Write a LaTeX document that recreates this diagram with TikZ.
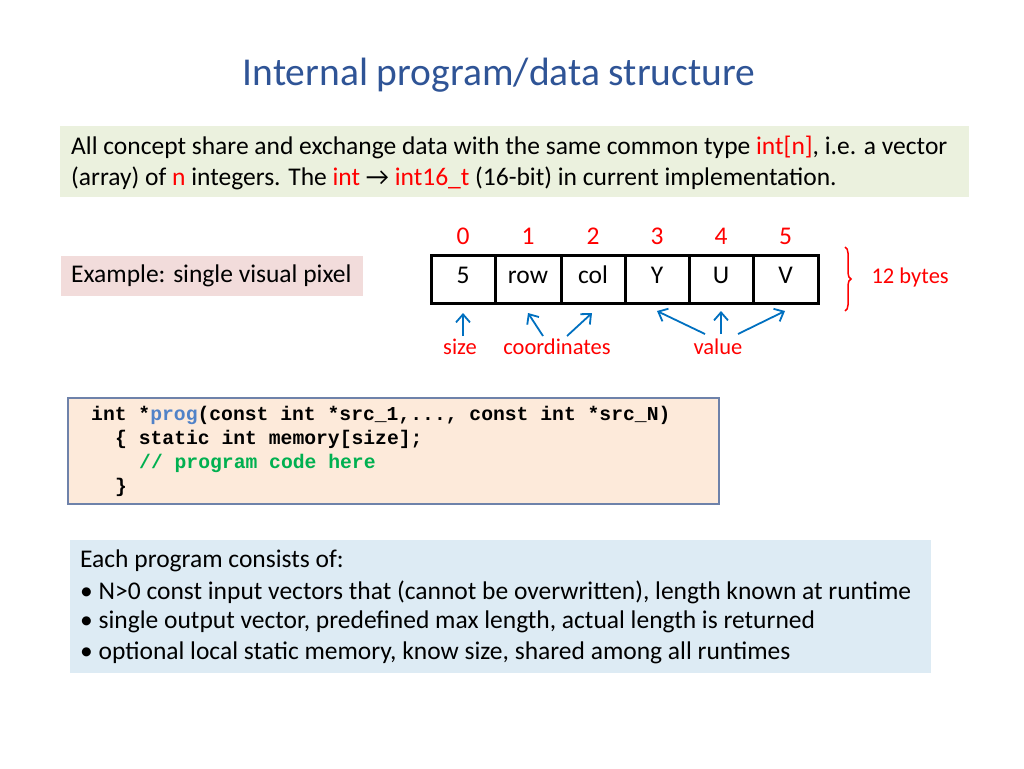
\documentclass[tikz,border=0pt]{standalone}
\usepackage{fontspec}
\setmainfont{Carlito}
\newfontfamily\codefont{Liberation Mono}
\usetikzlibrary{decorations.pathreplacing,arrows.meta}
\definecolor{ttl}{RGB}{47,84,150}
\definecolor{grn}{RGB}{235,241,222}
\definecolor{pnk}{RGB}{242,220,219}
\definecolor{cod}{RGB}{253,234,218}
\definecolor{codb}{RGB}{110,130,170}
\definecolor{blu}{RGB}{221,235,244}
\definecolor{arr}{RGB}{0,112,192}
\definecolor{kw}{RGB}{80,130,200}
\definecolor{cm}{RGB}{0,176,80}
\definecolor{rd}{RGB}{255,0,0}
\tikzset{
 txt/.style={anchor=west,inner sep=0,font=\fontsize{25.5}{30}\selectfont},
 idx/.style={text=rd,font=\fontsize{25.5}{30}\selectfont},
 cell/.style={draw,line width=3pt,minimum height=48pt,inner sep=0,text height=12pt,text depth=3pt,font=\fontsize{25.5}{30}\selectfont},
 lbl/.style={text=rd,font=\fontsize{22.5}{26}\selectfont},
 ar/.style={arr,line width=1.8pt,-{Straight Barb[length=8pt,width=14pt]}},
 code/.style={anchor=west,inner sep=0,font=\codefont\bfseries\fontsize{19.7}{23}\selectfont}
}
\begin{document}
\begin{tikzpicture}[x=1pt,y=-1pt]
\useasboundingbox (0,0) rectangle (1024,768);
\node[text=ttl,font=\fontsize{39.5}{46}\selectfont] (title) at (499,75) {Internal program/data structure};
\fill[grn] (60,126) rectangle (969,197);
\node[txt] (g1) at (71,147) {All concept share and exchange data with the same common type \textcolor{rd}{int[n]}, i.e. a vector};
\node[txt] (g2) at (71,178) {(array) of \textcolor{rd}{n} integers. The \textcolor{rd}{int} → \textcolor{rd}{int16\_t} (16-bit) in current implementation.};
\fill[pnk] (61,256) rectangle (363,296);
\node[txt] (ex) at (71,276) {Example: single visual pixel};
\foreach \n/\a/\b/\t in {0/431/495/5,1/495/561/row,2/561/625/col,3/625/689/Y,4/689/753/U,5/753/818/V}{
  \node[cell,minimum width={\b-\a}] (c\n) at ({(\a+\b)/2},279) {\t};
  \node[idx] (i\n) at ({(\a+\b)/2},236) {\n};
}
\draw[rd,line width=1.5pt,decorate,decoration={brace,amplitude=6pt}] (845,247) -- (845,311);
\node[lbl,anchor=west] (by) at (868,277) {12 bytes};
\node[lbl] (sz) at (460,347) {size};
\node[lbl] (co) at (557,347) {coordinates};
\node[lbl] (va) at (718,347) {value};
\draw[ar] (463,336) -- (463,313);
\draw[ar] (543,336) -- (528,313);
\draw[ar] (567,336) -- (592,313);
\draw[ar] (705,334) -- (657,311);
\draw[ar] (721,334) -- (721,311);
\draw[ar] (738,334) -- (785,311);
\draw[codb,fill=cod,line width=1.8pt] (68,398) rectangle (719,504);
\node[code] (k1) at (91,415) {int *\textcolor{kw}{prog}(const int *src\_1,..., const int *src\_N)};
\node[code] (k2) at (115,439) {\{ static int memory[size];};
\node[code] (k3) at (139,463) {\textcolor{cm}{// program code here}};
\node[code] (k4) at (115,487) {\}};
\fill[blu] (70,540) rectangle (931,673);
\node[txt] (b1) at (80,561) {Each program consists of:};
\node[txt] (b2) at (80,592) {• N>0 const input vectors that (cannot be overwritten), length known at runtime};
\node[txt] (b3) at (80,622) {• single output vector, predefined max length, actual length is returned};
\node[txt] (b4) at (80,653) {• optional local static memory, know size, shared among all runtimes};
\end{tikzpicture}
\end{document}
